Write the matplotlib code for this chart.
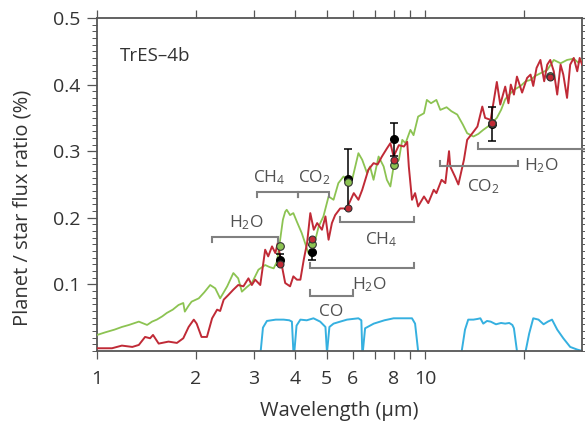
import matplotlib
matplotlib.use("Agg")
import matplotlib.pyplot as plt
from matplotlib.ticker import FixedLocator, NullFormatter, MultipleLocator

plt.rcParams['font.family'] = ['Open Sans', 'DejaVu Sans']
plt.rcParams['mathtext.fontset'] = 'custom'
plt.rcParams['mathtext.rm'] = 'Open Sans'
plt.rcParams['mathtext.it'] = 'Open Sans:italic'
plt.rcParams['mathtext.bf'] = 'Open Sans:bold'
plt.rcParams['mathtext.default'] = 'rm'

# ---- model spectra (wavelength in micron, flux ratio in %) ----
green_wl = [1.00, 1.06, 1.13, 1.19, 1.25, 1.34, 1.42, 1.47, 1.52, 1.58, 1.63, 1.70, 1.77, 1.83, 1.85, 1.90,
            1.94, 2.04, 2.12, 2.21, 2.29, 2.37, 2.43, 2.49, 2.60, 2.69, 2.76, 2.86, 2.96, 3.10, 3.25, 3.35,
            3.45, 3.53, 3.61, 3.68, 3.74, 3.78, 3.87, 3.96, 4.06, 4.20, 4.30, 4.40, 4.51, 4.62, 4.73, 4.89,
            5.07, 5.25, 5.43, 5.63, 5.80, 5.98, 6.25, 6.42, 6.64, 6.78, 6.95, 7.20, 7.46, 7.63, 7.82, 8.0,
            8.3, 8.5, 8.7, 9.0, 9.2, 9.5, 9.9, 10.1, 10.4, 10.8, 11.1, 11.6, 12.0, 12.5, 13.0, 13.4, 14.0,
            14.5, 15.0, 15.6, 16.5, 17.0, 17.5, 18.0, 18.6, 19.5, 20.2, 20.9, 21.6, 22.4, 23.5, 24.6, 25.8,
            27.0, 28.3, 29.2, 30.0]
green_fx = [0.024, 0.028, 0.032, 0.036, 0.039, 0.044, 0.039, 0.044, 0.047, 0.052, 0.057, 0.062, 0.069, 0.072, 0.059, 0.068,
            0.074, 0.079, 0.088, 0.099, 0.094, 0.079, 0.088, 0.097, 0.117, 0.109, 0.089, 0.096, 0.102, 0.122, 0.129, 0.126,
            0.124, 0.134, 0.167, 0.197, 0.209, 0.212, 0.204, 0.207, 0.194, 0.177, 0.162, 0.147, 0.142, 0.167, 0.187, 0.202,
            0.232, 0.227, 0.252, 0.262, 0.257, 0.257, 0.297, 0.287, 0.267, 0.277, 0.257, 0.292, 0.277, 0.257, 0.247, 0.277,
            0.287, 0.317, 0.312, 0.332, 0.324, 0.352, 0.357, 0.377, 0.372, 0.377, 0.362, 0.366, 0.360, 0.355, 0.340, 0.327, 0.322,
            0.326, 0.332, 0.338, 0.350, 0.362, 0.378, 0.385, 0.392, 0.398, 0.405, 0.407, 0.413, 0.417, 0.422, 0.437, 0.432,
            0.437, 0.439, 0.433, 0.437]

red_wl = [1.00, 1.11, 1.19, 1.28, 1.34, 1.40, 1.45, 1.48, 1.54, 1.65, 1.75, 1.83, 1.90, 1.97, 2.01, 2.08, 2.16,
          2.24, 2.32, 2.37, 2.43, 2.51, 2.60, 2.69, 2.79, 2.89, 2.96, 3.03, 3.14, 3.25, 3.32, 3.41, 3.49, 3.55,
          3.65, 3.74, 3.87, 3.96, 4.06, 4.16, 4.26, 4.36, 4.46, 4.57, 4.68, 4.84, 4.96, 5.07, 5.19, 5.31, 5.50,
          5.76, 6.05, 6.25, 6.42, 6.70, 6.95, 7.15, 7.37, 7.63, 7.82, 8.0, 8.3, 8.6, 8.8, 8.9, 9.1, 9.3, 9.5,
          9.9, 10.2, 10.6, 10.8, 11.2, 11.5, 11.8, 11.9, 12.3, 12.6, 13.1, 13.4, 13.9, 14.4, 14.9, 15.2, 15.8,
          16.5, 16.9, 17.5, 17.9, 18.2, 18.6, 19.0, 19.7, 20.4, 20.9, 21.3, 21.8, 22.4, 23.0, 23.5, 24.0, 24.6,
          25.2, 25.8, 26.3, 27.0, 27.6, 28.3, 29.0, 29.5, 30.0]
red_fx = [0.004, 0.004, 0.008, 0.006, 0.009, 0.021, 0.019, 0.024, 0.011, 0.014, 0.012, 0.019, 0.036, 0.047, 0.041, 0.021, 0.021,
          0.049, 0.062, 0.060, 0.077, 0.084, 0.092, 0.099, 0.097, 0.109, 0.099, 0.107, 0.099, 0.152, 0.142, 0.157, 0.147, 0.162,
          0.129, 0.102, 0.097, 0.112, 0.107, 0.107, 0.137, 0.162, 0.207, 0.182, 0.192, 0.182, 0.202, 0.167, 0.192, 0.204, 0.214,
          0.214, 0.237, 0.227, 0.242, 0.272, 0.282, 0.280, 0.292, 0.304, 0.312, 0.292, 0.309, 0.307, 0.314, 0.277, 0.227, 0.237, 0.217,
          0.232, 0.222, 0.242, 0.237, 0.257, 0.252, 0.300, 0.277, 0.262, 0.250, 0.287, 0.317, 0.327, 0.337, 0.367, 0.350, 0.347,
          0.404, 0.370, 0.397, 0.372, 0.400, 0.385, 0.412, 0.388, 0.410, 0.415, 0.398, 0.425, 0.437, 0.405, 0.430, 0.437, 0.420,
          0.385, 0.430, 0.415, 0.380, 0.430, 0.440, 0.420, 0.440, 0.430]

# ---- filter transmission curves (scaled) ----
irac1_wl = [3.15, 3.20, 3.29, 3.50, 3.70, 3.85, 3.92, 3.96]
irac1_tr = [0.0, 0.035, 0.045, 0.047, 0.047, 0.046, 0.044, 0.0]
irac2_wl = [3.99, 4.05, 4.16, 4.35, 4.56, 4.78, 4.96, 5.01]
irac2_tr = [0.0, 0.038, 0.047, 0.046, 0.049, 0.044, 0.036, 0.0]
irac3_wl = [5.02, 5.10, 5.25, 5.50, 5.77, 6.00, 6.25, 6.38, 6.42]
irac3_tr = [0.0, 0.036, 0.041, 0.044, 0.047, 0.048, 0.049, 0.046, 0.0]
irac4_wl = [6.45, 6.55, 6.96, 7.50, 8.00, 8.60, 9.10, 9.30, 9.50]
irac4_tr = [0.0, 0.034, 0.041, 0.046, 0.049, 0.049, 0.049, 0.041, 0.0]
irs16_wl = [12.9, 13.2, 13.5, 14.0, 14.4, 14.7, 15.0, 15.4, 15.8, 16.4, 17.0, 17.5, 18.0, 18.4, 18.6, 19.0]
irs16_tr = [0.0, 0.032, 0.047, 0.047, 0.048, 0.049, 0.041, 0.045, 0.044, 0.040, 0.042, 0.041, 0.042, 0.039, 0.034, 0.0]
mips24_wl = [20.2, 20.7, 21.3, 22.1, 22.9, 23.6, 24.3, 25.2, 26.3, 27.6, 29.0, 30.0]
mips24_tr = [0.0, 0.026, 0.049, 0.047, 0.040, 0.044, 0.047, 0.032, 0.019, 0.006, 0.002, 0.0]

# ---- observations and band-integrated models ----
obs_wl = [3.6, 4.5, 5.8, 8.0, 16.0]
obs_fx = [0.137, 0.148, 0.258, 0.318, 0.341]
obs_err = [0.008, 0.011, 0.045, 0.025, 0.026]
band_wl = [3.6, 4.5, 5.8, 8.0, 16.0, 24.0]
green_band = [0.157, 0.161, 0.254, 0.279, 0.343, 0.413]
red_band = [0.131, 0.168, 0.214, 0.287, 0.343, 0.411]

# ---- molecular band brackets ----
band_lo = [2.24, 3.07, 4.10, 5.50, 4.45, 4.45, 11.1, 14.5]
band_hi = [3.56, 4.10, 5.10, 9.20, 9.20, 6.00, 19.2, 32.0]
band_level = [0.171, 0.239, 0.239, 0.193, 0.124, 0.083, 0.277, 0.304]
band_label = ['H$_2$O', 'CH$_4$', 'CO$_2$', 'CH$_4$', 'H$_2$O', 'CO', 'CO$_2$', 'H$_2$O']
band_label_wl = [2.85, 3.35, 4.58, 7.35, 6.75, 5.15, 15.0, 22.6]
band_label_fx = [0.193, 0.260, 0.260, 0.167, 0.099, 0.059, 0.247, 0.278]
band_ends_up = [False, False, False, True, True, True, True, True]

fig = plt.figure(figsize=(5.85, 4.29), dpi=100)
ax = fig.add_axes([0.166, 0.182, 0.829, 0.776])

green_c = '#8cc352'
red_c = '#c02a36'
blue_c = '#35b0e0'
gray_c = '#808080'
axis_c = '#555555'
text_c = '#333333'

for wl, tr in [(irac1_wl, irac1_tr), (irac2_wl, irac2_tr), (irac3_wl, irac3_tr),
               (irac4_wl, irac4_tr), (irs16_wl, irs16_tr), (mips24_wl, mips24_tr)]:
    ax.plot(wl, tr, color=blue_c, lw=1.4, zorder=2)

ax.plot(green_wl, green_fx, color=green_c, lw=1.3, zorder=3)
ax.plot(red_wl, red_fx, color=red_c, lw=1.4, zorder=4)

ax.errorbar(obs_wl, obs_fx, yerr=obs_err, fmt='o', color='black', ms=5.5, capsize=3,
            elinewidth=1.1, capthick=1.1, zorder=6)
ax.plot(band_wl, green_band, 'o', color=green_c, mec='#333333', mew=0.8, ms=5.5, zorder=7)
ax.plot(band_wl, red_band, 'o', color=red_c, mec='#333333', mew=0.8, ms=5.0, zorder=8)

tick_h = 0.008
for lo, hi, lev, lab, lx, ly, up in zip(band_lo, band_hi, band_level, band_label,
                                        band_label_wl, band_label_fx, band_ends_up):
    d = tick_h if up else -tick_h
    ax.plot([lo, lo, hi, hi], [lev + d, lev, lev, lev + d], color=gray_c, lw=1.5,
            clip_on=False, zorder=5, solid_joinstyle='miter')
    ax.text(lx, ly, lab, ha='center', va='center', fontsize=12.5, color='#505050')

ax.text(1.175, 0.443, 'TrES–4b', fontsize=13.5, color=text_c, ha='left', va='center')

ax.set_xscale('log')
ax.set_xlim(1, 30)
ax.set_ylim(0, 0.5)

xt_major = [1, 2, 3, 4, 5, 6, 8, 10]
xt_labels = ['1', '2', '3', '4', '5', '6', '8', '10']
xt_minor = [7, 9, 20]
ax.xaxis.set_major_locator(FixedLocator(xt_major))
ax.set_xticklabels(xt_labels)
ax.xaxis.set_minor_locator(FixedLocator(xt_minor))
ax.xaxis.set_minor_formatter(NullFormatter())
ax.yaxis.set_major_locator(FixedLocator([0.1, 0.2, 0.3, 0.4, 0.5]))
ax.set_yticklabels(['0.1', '0.2', '0.3', '0.4', '0.5'])
ax.yaxis.set_minor_locator(MultipleLocator(0.01))

ax.tick_params(axis='x', which='both', direction='out', length=6, width=0.9, color=axis_c,
               top=True, labeltop=False, labelsize=14, labelcolor=text_c, pad=8)
ax.tick_params(axis='y', which='major', direction='out', length=7, width=0.9, color=axis_c,
               right=True, labelsize=14, labelcolor=text_c, pad=5)
ax.tick_params(axis='y', which='minor', direction='out', length=3.5, width=0.7, color=axis_c,
               right=True)

for sp in ax.spines.values():
    sp.set_color(axis_c)
    sp.set_linewidth(1.3)

ax.set_xlabel('Wavelength (μm)', fontsize=14.5, color=text_c, labelpad=9)
ax.set_ylabel('Planet / star flux ratio (%)', fontsize=14.5, color=text_c)
ax.yaxis.set_label_coords(-0.134, 0.43)

fig.savefig('out.png', dpi=100)
